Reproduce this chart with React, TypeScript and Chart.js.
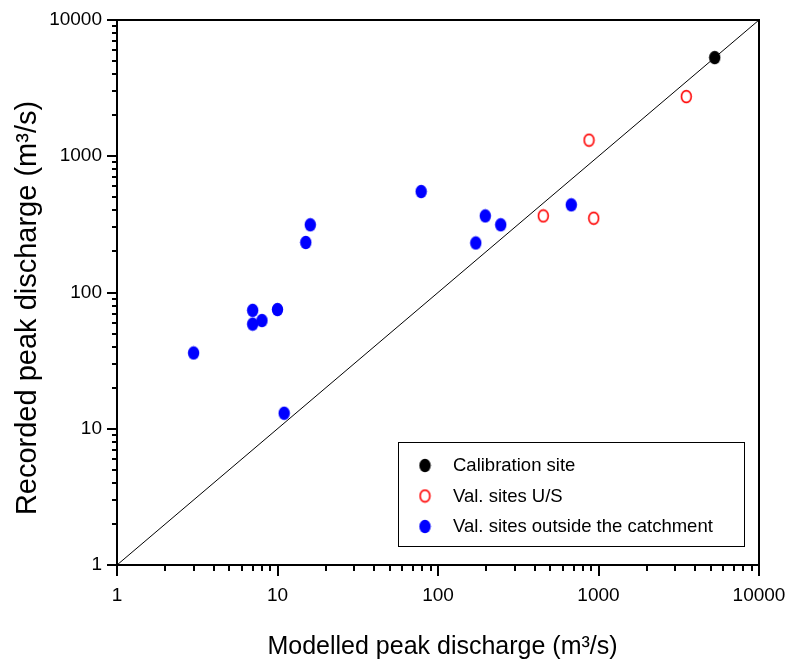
import React, { useEffect, useRef } from 'react';
import { Chart, registerables } from 'chart.js';

Chart.register(...registerables);

// ---- data ----
const calibrationX = [5300];
const calibrationY = [5300];

const upstreamX = [453, 873, 934, 3523];
const upstreamY = [365, 1313, 351, 2742];

const outsideX = [3, 7, 7, 8, 10, 11, 15, 16, 78.5, 172, 197, 246, 677];
const outsideY = [36, 74, 58.6, 62.3, 75, 13, 233, 314, 551, 231, 365, 314, 440];

const lineX = [1, 10000];
const lineY = [1, 10000];

const seriesLabels = ['Calibration site', 'Val. sites U/S', 'Val. sites outside the catchment'];
const xTitle = 'Modelled peak discharge (m³/s)';
const yTitle = 'Recorded peak discharge (m³/s)';
const axisMin = 1;
const axisMax = 10000;
const decades = [1, 10, 100, 1000];
const mantissas = [1, 2, 3, 4, 5, 6, 7, 8, 9];

const FONT = '"Liberation Sans", Arial, Helvetica, sans-serif';

function isPow10(v: number) {
  const lg = Math.log10(v);
  return Math.abs(lg - Math.round(lg)) < 1e-6;
}

function tickValues() {
  const out: number[] = [];
  for (const d of decades) for (const m of mantissas) out.push(d * m);
  out.push(axisMax);
  return out;
}

function makeMarker(fill: string | null, stroke: string | null, lw: number) {
  const c = document.createElement('canvas');
  c.width = 13;
  c.height = 15;
  const g = c.getContext('2d')!;
  g.beginPath();
  if (fill) {
    g.ellipse(6.5, 7.5, 5.7, 6.7, 0, 0, Math.PI * 2);
    g.fillStyle = fill;
    g.fill();
  } else if (stroke) {
    g.ellipse(6.5, 7.5, 4.9, 5.9, 0, 0, Math.PI * 2);
    g.strokeStyle = stroke;
    g.lineWidth = lw;
    g.stroke();
  }
  return c;
}

const pts = (xs: number[], ys: number[]) => xs.map((x, i) => ({ x, y: ys[i] }));

export default function App() {
  const ref = useRef<HTMLCanvasElement | null>(null);

  useEffect(() => {
    document.body.style.margin = '0';
    const canvas = ref.current;
    if (!canvas) return;

    const blackDot = makeMarker('#000000', null, 0);
    const redRing = makeMarker(null, '#ff0000', 1.6);
    const blueDot = makeMarker('#0000ff', null, 0);
    const markers = [blackDot, redRing, blueDot];

    const decor = {
      id: 'decor',
      afterDraw(chart: any) {
        const ctx = chart.ctx as CanvasRenderingContext2D;
        const a = chart.chartArea;
        const xs = chart.scales.x;
        const ys = chart.scales.y;
        ctx.save();
        ctx.strokeStyle = '#000';
        ctx.lineWidth = 2;
        // frame
        ctx.strokeRect(a.left, a.top, a.right - a.left, a.bottom - a.top);
        // x ticks
        for (const t of xs.ticks) {
          const px = Math.round(xs.getPixelForValue(t.value));
          const len = isPow10(t.value) ? 11 : 6;
          ctx.beginPath();
          ctx.moveTo(px, a.bottom);
          ctx.lineTo(px, a.bottom + len);
          ctx.stroke();
        }
        // y ticks
        for (const t of ys.ticks) {
          const py = Math.round(ys.getPixelForValue(t.value));
          const len = isPow10(t.value) ? 10 : 5;
          ctx.beginPath();
          ctx.moveTo(a.left, py);
          ctx.lineTo(a.left - len, py);
          ctx.stroke();
        }
        // axis titles
        ctx.fillStyle = '#000';
        ctx.textAlign = 'center';
        ctx.textBaseline = 'alphabetic';
        ctx.font = `25px ${FONT}`;
        ctx.fillText(xTitle, 442.5, 654);
        ctx.save();
        ctx.translate(36, 308);
        ctx.rotate(-Math.PI / 2);
        ctx.font = `29px ${FONT}`;
        ctx.fillText(yTitle, 0, 0);
        ctx.restore();

        // legend
        const lx = a.right - 15 - 346;
        const ly = a.bottom - 19 - 104;
        ctx.fillStyle = '#fff';
        ctx.fillRect(lx, ly, 346, 104);
        ctx.lineWidth = 1;
        ctx.strokeStyle = '#000';
        ctx.strokeRect(lx + 0.5, ly + 0.5, 346, 104);
        ctx.font = `18.5px ${FONT}`;
        ctx.textAlign = 'left';
        ctx.textBaseline = 'middle';
        ctx.fillStyle = '#000';
        const dsets = chart.data.datasets.filter((d: any) => d.showInLegend);
        dsets.forEach((d: any, i: number) => {
          const cy = ly + 23.5 + i * 30.5;
          const img = d.pointStyle as HTMLCanvasElement;
          ctx.drawImage(img, lx + 27 - img.width / 2, cy - img.height / 2);
          ctx.fillText(d.label, lx + 55, cy + 0.5);
        });
        ctx.restore();
      },
    };

    const chart = new Chart(canvas, {
      type: 'scatter',
      data: {
        datasets: [
          {
            label: seriesLabels[0],
            data: pts(calibrationX, calibrationY),
            pointStyle: markers[0],
            pointRadius: 6,
            showInLegend: true,
            order: 1,
          } as any,
          {
            label: seriesLabels[1],
            data: pts(upstreamX, upstreamY),
            pointStyle: markers[1],
            pointRadius: 6,
            showInLegend: true,
            order: 1,
          } as any,
          {
            label: seriesLabels[2],
            data: pts(outsideX, outsideY),
            pointStyle: markers[2],
            pointRadius: 6,
            showInLegend: true,
            order: 1,
          } as any,
          {
            type: 'line',
            label: '1:1',
            data: pts(lineX, lineY),
            borderColor: '#000',
            borderWidth: 1,
            pointRadius: 0,
            fill: false,
            showLine: true,
            order: 10,
          } as any,
        ],
      },
      options: {
        animation: false,
        responsive: false,
        events: [],
        layout: { padding: { top: 20, right: 28, left: 0, bottom: 0 } },
        plugins: {
          legend: { display: false },
          tooltip: { enabled: false },
          title: { display: false },
        },
        scales: {
          x: {
            type: 'logarithmic',
            min: axisMin,
            max: axisMax,
            border: { display: false },
            grid: { display: false, drawTicks: true, tickLength: 11 },
            afterBuildTicks: (s: any) => {
              s.ticks = tickValues().map((v) => ({ value: v, major: isPow10(v) }));
            },
            afterFit: (s: any) => {
              s.height = 101;
              s.paddingLeft = 0;
              s.paddingRight = 0;
            },
            ticks: {
              autoSkip: false,
              maxRotation: 0,
              minRotation: 0,
              padding: 8,
              color: '#000',
              font: { family: FONT, size: 19 },
              callback: (v: any) => (isPow10(Number(v)) ? String(Math.round(Number(v))) : ''),
            },
          },
          y: {
            type: 'logarithmic',
            min: axisMin,
            max: axisMax,
            border: { display: false },
            grid: { display: false, drawTicks: true, tickLength: 10 },
            afterBuildTicks: (s: any) => {
              s.ticks = tickValues().map((v) => ({ value: v, major: isPow10(v) }));
            },
            afterFit: (s: any) => {
              s.width = 117;
              s.paddingTop = 0;
              s.paddingBottom = 0;
            },
            ticks: {
              autoSkip: false,
              padding: 5,
              color: '#000',
              font: { family: FONT, size: 19 },
              callback: (v: any) => (isPow10(Number(v)) ? String(Math.round(Number(v))) : ''),
            },
          },
        },
      } as any,
      plugins: [decor],
    });

    return () => chart.destroy();
  }, []);

  return (
    <div style={{ position: 'absolute', left: 0, top: 0, width: 787, height: 666, background: '#fff' }}>
      <canvas ref={ref} width={787} height={666} style={{ display: 'block' }} />
    </div>
  );
}
